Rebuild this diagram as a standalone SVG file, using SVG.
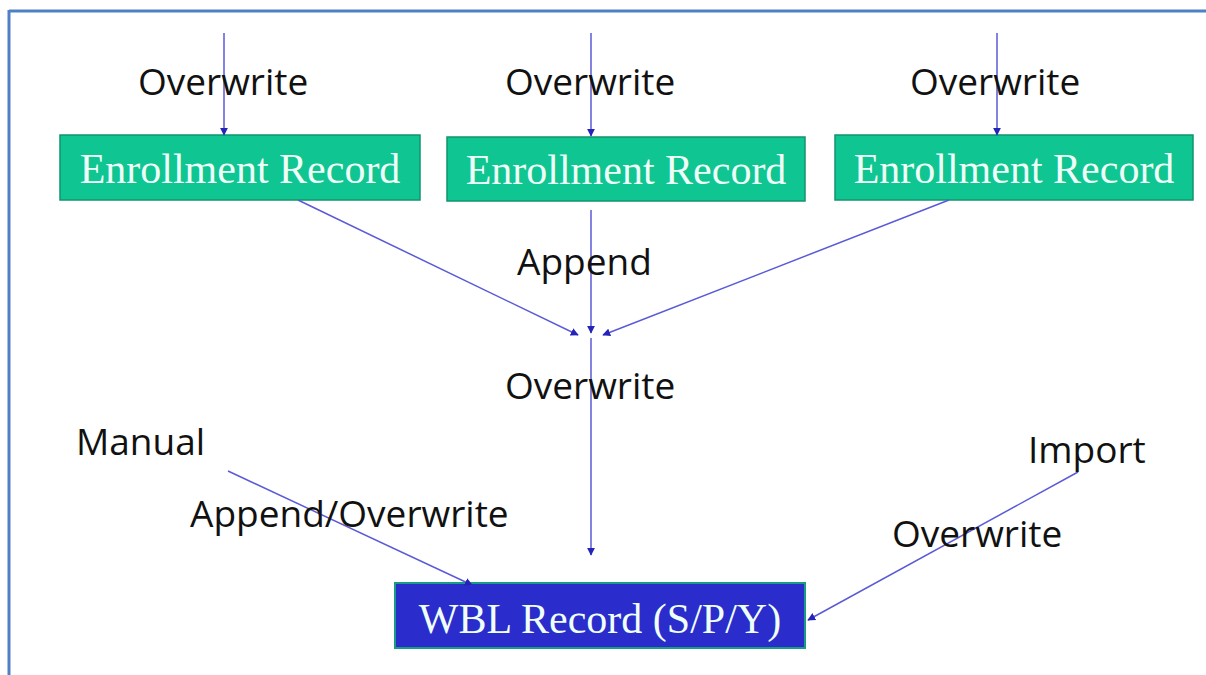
<svg xmlns="http://www.w3.org/2000/svg" width="1206" height="675" viewBox="0 0 1206 675">
  <style>
    .label { font-family: "Open Sans", "Liberation Sans", sans-serif; font-size: 37px; fill: #111; }
    .enroll rect { fill: #0fc591; stroke: #12946c; stroke-width: 1.5; }
    .enroll text, .wbl text { font-family: "Liberation Serif", "Times New Roman", serif; font-size: 42px; fill: #eefff8; text-anchor: middle; }
    .wbl rect { fill: #2a2ccc; stroke: #1a9c84; stroke-width: 2; }
    .conn line { stroke: #5a5ad8; stroke-width: 1.5; fill: none; }
  </style>
  <defs>
    <marker id="arrow" viewBox="0 0 10 10" refX="9" refY="5" markerWidth="8" markerHeight="8" orient="auto" markerUnits="userSpaceOnUse">
      <path d="M0,0 L10,5 L0,10 z" fill="#2424b8"/>
    </marker>
  </defs>

  <rect width="1206" height="675" fill="#ffffff"/>

  <!-- frame -->
  <g id="frame" fill="none" stroke="#4f80c6" stroke-width="3">
    <line x1="9" y1="11" x2="1206" y2="11"/>
    <line x1="9" y1="10" x2="9" y2="675"/>
  </g>

  <!-- nodes -->
  <g id="enroll-1" class="enroll">
    <rect x="60" y="135" width="360" height="65"/>
    <text x="240" y="183">Enrollment Record</text>
  </g>
  <g id="enroll-2" class="enroll">
    <rect x="447" y="137" width="358" height="64"/>
    <text x="626" y="184">Enrollment Record</text>
  </g>
  <g id="enroll-3" class="enroll">
    <rect x="835" y="135" width="358" height="65"/>
    <text x="1014" y="183">Enrollment Record</text>
  </g>
  <g id="wbl" class="wbl">
    <rect x="395" y="583" width="410" height="65"/>
    <text x="600" y="633">WBL Record (S/P/Y)</text>
  </g>

  <!-- connectors -->
  <g id="connectors" class="conn">
    <line x1="224" y1="33" x2="224" y2="135" marker-end="url(#arrow)"/>
    <line x1="591" y1="33" x2="591" y2="136" marker-end="url(#arrow)"/>
    <line x1="997" y1="33" x2="997" y2="135" marker-end="url(#arrow)"/>
    <line x1="298" y1="200" x2="578" y2="335" marker-end="url(#arrow)"/>
    <line x1="591" y1="210" x2="591" y2="333" marker-end="url(#arrow)"/>
    <line x1="949" y1="200" x2="603" y2="335" marker-end="url(#arrow)"/>
    <line x1="591" y1="338" x2="591" y2="555" marker-end="url(#arrow)"/>
    <line x1="228" y1="471" x2="472" y2="585" marker-end="url(#arrow)"/>
    <line x1="1078" y1="472" x2="808" y2="620" marker-end="url(#arrow)"/>
  </g>

  <!-- connector labels -->
  <g id="labels" class="label">
    <text x="138" y="95">Overwrite</text>
    <text x="505" y="95">Overwrite</text>
    <text x="910" y="95">Overwrite</text>
    <text x="517" y="275">Append</text>
    <text x="505" y="399">Overwrite</text>
    <text x="76" y="455">Manual</text>
    <text x="190" y="527">Append/Overwrite</text>
    <text x="1028" y="463">Import</text>
    <text x="892" y="547">Overwrite</text>
  </g>
</svg>
